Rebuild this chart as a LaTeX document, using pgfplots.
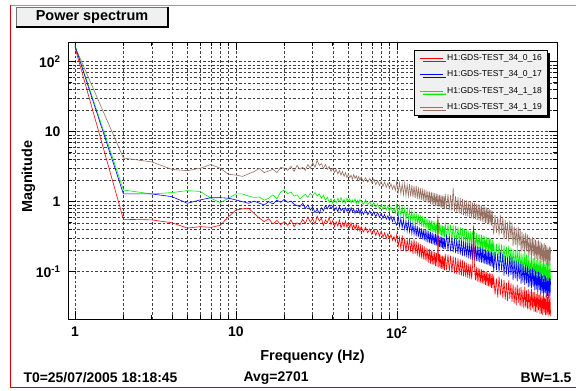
\documentclass[border=0pt]{standalone}
\usepackage{fontspec}
\setmainfont{Liberation Sans}
\usepackage{pgfplots}
\usepackage{pgfplotstable}
\pgfplotsset{compat=1.18}
\usetikzlibrary{shadows}
\definecolor{rootred}{RGB}{255,0,0}
\definecolor{rootblue}{RGB}{0,0,255}
\definecolor{rootgreen}{RGB}{0,240,0}
\definecolor{rootbrown}{RGB}{150,112,98}
\definecolor{panefill}{RGB}{240,240,240}

\pgfplotstableread{
f r b g br
1 160 168 172 165
2 0.56 1.29 1.47 4.2
3 0.55 1.29 1.29 3.7
4 0.50 1.18 1.35 2.9
5 0.42 0.95 1.44 2.77
6 0.44 1.06 1.40 3.0
7 0.43 1.14 1.12 3.4
8 0.46 1.14 0.97 3.0
9 0.61 1.12 1.12 2.46
10 0.76 1.06 1.29 2.4
11 0.79 1.00 1.29 2.3
12 0.80 0.95 1.20 2.5
13 0.68 1.02 1.15 2.7
14 0.58 0.95 1.17 3.0
15 0.52 0.90 1.05 2.6
16 0.57 1.00 1.12 2.75
17 0.48 0.93 1.25 2.9
18 0.54 1.05 1.10 2.6
19 0.47 0.98 1.38 3.1
20 0.52 1.08 1.47 3.0
21 0.46 0.98 1.30 2.8
22 0.55 1.02 1.38 3.2
23 0.44 0.92 1.20 2.7
24 0.50 0.88 1.25 3.3
25 0.47 0.85 1.10 2.9
26 0.56 0.95 1.18 3.1
27 0.49 0.80 1.28 2.8
28 0.60 0.90 1.15 3.4
29 0.51 0.76 1.32 3.0
30 0.57 0.84 1.22 3.6
31 0.48 0.70 1.35 3.1
32 0.62 0.78 1.20 3.9
33 0.53 0.68 1.30 3.3
34 0.58 0.82 1.12 3.5
35 0.46 0.74 1.24 3.0
36 0.55 0.88 1.05 3.4
37 0.50 0.79 1.16 2.9
38 0.60 0.90 0.98 3.2
39 0.47 0.80 1.10 2.7
40 0.54 0.86 0.95 3.0
41 0.44 0.75 1.08 2.6
42 0.52 0.83 0.96 2.9
43 0.45 0.72 1.12 2.5
44 0.55 0.85 1.00 2.8
45 0.42 0.74 1.15 2.4
46 0.50 0.80 0.98 2.7
47 0.44 0.70 1.08 2.3
48 0.53 0.82 0.95 2.6
49 0.43 0.73 1.12 2.2
50 0.49 0.80 1.02 2.5
51 0.42 0.70 1.10 2.2
52 0.50 0.82 0.96 2.4
53 0.41 0.72 1.06 2.1
54 0.47 0.78 0.98 2.45
55 0.40 0.68 1.10 2.15
56 0.48 0.76 0.94 2.35
57 0.39 0.70 1.05 2.05
58 0.45 0.79 0.95 2.3
59 0.38 0.67 1.07 2.0
60 0.44 0.78 1.02 2.25
62 0.37 0.66 0.92 1.95
64 0.43 0.77 1.06 2.2
66 0.36 0.65 0.90 1.9
68 0.41 0.74 1.00 2.15
70 0.34 0.63 0.86 1.85
72 0.40 0.72 0.97 2.1
74 0.33 0.61 0.84 1.75
76 0.39 0.70 0.93 2.0
78 0.32 0.60 0.80 1.7
80 0.38 0.68 0.90 1.95
82 0.31 0.58 0.78 1.65
84 0.36 0.66 0.88 1.9
86 0.30 0.56 0.76 1.6
88 0.35 0.63 0.86 1.85
90 0.29 0.54 0.73 1.55
92 0.34 0.62 0.84 1.8
94 0.28 0.52 0.71 1.5
96 0.32 0.60 0.81 1.72
98 0.27 0.50 0.69 1.45
100 0.34 0.46 0.92 1.95
102 0.23 0.62 0.65 1.35
104 0.31 0.44 0.86 1.85
106 0.21 0.58 0.62 1.30
108 0.33 0.42 0.84 1.80
110 0.20 0.55 0.58 1.25
112 0.30 0.40 0.80 1.85
114 0.19 0.53 0.57 1.22
116 0.29 0.38 0.78 1.75
118 0.20 0.52 0.55 1.20
120 0.30 0.37 0.76 1.78
122 0.19 0.50 0.53 1.18
124 0.28 0.35 0.74 1.72
126 0.18 0.48 0.51 1.15
128 0.29 0.34 0.70 1.70
130 0.18 0.46 0.49 1.12
132 0.27 0.32 0.68 1.68
134 0.17 0.45 0.47 1.10
136 0.26 0.31 0.66 1.62
138 0.16 0.43 0.46 1.08
140 0.25 0.30 0.64 1.58
142 0.155 0.42 0.44 1.05
144 0.24 0.29 0.62 1.55
146 0.15 0.41 0.43 1.02
148 0.23 0.28 0.60 1.50
150 0.145 0.40 0.42 1.00
152 0.22 0.27 0.58 1.45
154 0.14 0.39 0.40 0.98
156 0.215 0.26 0.57 1.42
158 0.135 0.38 0.39 0.96
160 0.21 0.255 0.55 1.40
162 0.13 0.37 0.38 0.93
164 0.20 0.25 0.54 1.38
166 0.127 0.36 0.37 0.91
168 0.195 0.245 0.53 1.35
170 0.124 0.35 0.36 0.90
172 0.19 0.24 0.52 1.32
174 0.12 0.345 0.35 0.88
176 0.185 0.235 0.50 1.30
178 0.118 0.34 0.345 0.86
180 0.65 0.23 0.60 1.28
182 0.115 0.33 0.34 0.85
184 0.18 0.225 0.48 1.26
186 0.112 0.32 0.33 0.84
188 0.175 0.22 0.47 1.24
190 0.11 0.315 0.32 0.82
192 0.17 0.215 0.46 1.22
194 0.107 0.31 0.315 0.80
196 0.165 0.21 0.45 1.20
198 0.105 0.30 0.31 0.79
200 0.18 0.21 0.50 1.30
204 0.105 0.34 0.30 0.78
208 0.175 0.20 0.48 1.28
212 0.10 0.32 0.29 0.76
216 0.17 0.195 0.47 1.25
220 0.098 0.31 0.28 0.74
224 0.165 0.19 0.46 1.57
228 0.095 0.30 0.275 0.72
232 0.16 0.185 0.45 1.20
236 0.092 0.29 0.27 0.70
240 0.155 0.18 0.44 1.15
244 0.09 0.285 0.26 0.68
248 0.15 0.175 0.43 1.12
252 0.088 0.28 0.255 0.66
256 0.145 0.17 0.42 1.10
260 0.086 0.27 0.25 0.64
264 0.14 0.165 0.41 1.06
268 0.084 0.265 0.245 0.62
272 0.135 0.16 0.40 1.04
276 0.082 0.26 0.24 0.61
280 0.13 0.155 0.39 1.02
284 0.08 0.255 0.235 0.60
288 0.127 0.15 0.38 1.00
292 0.078 0.25 0.23 0.58
296 0.124 0.148 0.37 0.98
300 0.46 0.30 0.40 0.57
304 0.12 0.145 0.36 0.96
308 0.075 0.235 0.22 0.56
312 0.117 0.142 0.355 0.94
316 0.073 0.23 0.215 0.55
320 0.114 0.14 0.35 0.92
324 0.071 0.225 0.21 0.54
328 0.111 0.137 0.34 0.90
332 0.07 0.22 0.205 0.53
336 0.108 0.135 0.335 0.88
340 0.068 0.215 0.20 0.52
344 0.105 0.132 0.33 0.86
348 0.066 0.21 0.195 0.51
352 0.102 0.13 0.32 0.84
356 0.065 0.205 0.19 0.50
360 0.10 0.127 0.315 0.82
364 0.063 0.20 0.185 0.49
368 0.098 0.125 0.31 0.80
372 0.062 0.197 0.18 0.48
376 0.096 0.122 0.30 0.78
380 0.06 0.193 0.178 0.47
384 0.094 0.12 0.295 0.76
388 0.059 0.19 0.175 0.46
392 0.092 0.118 0.29 0.74
396 0.058 0.187 0.17 0.45
400 0.088 0.10 0.27 0.34
408 0.047 0.19 0.14 0.64
416 0.080 0.105 0.25 0.36
424 0.043 0.18 0.145 0.61
432 0.086 0.098 0.26 0.33
440 0.046 0.195 0.135 0.65
448 0.078 0.104 0.245 0.35
456 0.042 0.18 0.14 0.60
464 0.076 0.088 0.24 0.29
472 0.040 0.17 0.12 0.55
480 0.070 0.092 0.225 0.30
488 0.038 0.16 0.128 0.51
496 0.075 0.085 0.235 0.27
504 0.041 0.168 0.12 0.54
512 0.068 0.09 0.22 0.29
520 0.037 0.158 0.125 0.50
528 0.066 0.076 0.21 0.23
536 0.035 0.145 0.11 0.45
544 0.060 0.08 0.20 0.24
552 0.033 0.14 0.113 0.42
560 0.065 0.073 0.215 0.22
568 0.036 0.138 0.108 0.44
576 0.059 0.078 0.202 0.235
584 0.032 0.135 0.11 0.41
592 0.060 0.067 0.185 0.19
600 0.032 0.128 0.098 0.37
608 0.055 0.07 0.178 0.20
616 0.030 0.122 0.095 0.35
624 0.061 0.065 0.188 0.185
632 0.031 0.125 0.099 0.36
640 0.054 0.068 0.175 0.195
648 0.029 0.12 0.094 0.34
656 0.056 0.06 0.168 0.165
664 0.029 0.114 0.086 0.32
672 0.052 0.062 0.16 0.17
680 0.028 0.11 0.088 0.30
688 0.057 0.058 0.166 0.16
696 0.030 0.113 0.085 0.315
704 0.051 0.061 0.158 0.168
712 0.027 0.108 0.087 0.30
720 0.052 0.054 0.155 0.148
728 0.027 0.103 0.080 0.285
736 0.048 0.056 0.147 0.152
744 0.026 0.099 0.081 0.27
752 0.053 0.052 0.152 0.145
760 0.028 0.10 0.078 0.28
768 0.047 0.055 0.145 0.15
776 0.025 0.097 0.079 0.268
784 0.049 0.048 0.142 0.133
792 0.025 0.092 0.074 0.26
800 0.045 0.05 0.136 0.138
808 0.024 0.088 0.075 0.245
816 0.050 0.047 0.141 0.13
824 0.026 0.09 0.072 0.255
832 0.044 0.049 0.135 0.135
840 0.024 0.086 0.074 0.24
848 0.047 0.043 0.133 0.121
856 0.024 0.083 0.07 0.235
864 0.044 0.045 0.128 0.125
872 0.023 0.08 0.071 0.22
880 0.048 0.042 0.132 0.12
888 0.024 0.082 0.069 0.23
896 0.043 0.044 0.127 0.124
904 0.023 0.079 0.07 0.222
}\spec

\begin{document}
\begin{tikzpicture}[x=1bp,y=1bp]
\path[use as bounding box] (0,0) rectangle (576,390);
% pad border
\draw[red!85!black, line width=1.2bp] (10.5,385) -- (10.5,2.5) -- (576,2.5);
\draw[red!55, line width=0.8bp] (10.5,385) -- (576,385);
% title box
\draw[fill=panefill, draw=black!55, line width=0.6bp] (16,363) rectangle (168,383);
\draw[black, line width=1.2bp] (16,363) -- (168,363) -- (168,383);
\node[font=\fontsize{14.5}{14.5}\selectfont\bfseries] at (92,373) {Power spectrum};
% bottom texts
\node[anchor=west, font=\fontsize{14}{14}\selectfont\bfseries] at (20,12) {T0=25/07/2005 18:18:45};
\node[anchor=west, font=\fontsize{14}{14}\selectfont\bfseries] at (240,12) {Avg=2701};
\node[anchor=east, font=\fontsize{14}{14}\selectfont\bfseries] at (575,12) {BW=1.5};
\begin{axis}[
  at={(68bp,71bp)}, anchor=south west,
  width=489bp, height=277bp, scale only axis,
  xmode=log, ymode=log,
  xmin=0.905, xmax=990, ymin=0.0211, ymax=191,
  axis line style={black, line width=0.8bp},
  tick style={black, line width=0.6bp},
  major tick length=8bp, minor tick length=4.5bp,
  grid=both,
  major grid style={black!75, line width=0.45bp, dash pattern=on 2.5bp off 2bp},
  minor grid style={black!75, line width=0.45bp, dash pattern=on 2.5bp off 2bp},
  xtick={1,10,100}, xticklabels={1,10,10\textsuperscript{2}},
  ytick={0.1,1,10,100}, yticklabels={10\textsuperscript{-1},1,10,10\textsuperscript{2}},
  tick label style={font=\fontsize{14}{14}\selectfont\bfseries},
  yticklabel style={xshift=-4bp},
  xticklabel style={yshift=-4bp},
  xlabel={Frequency (Hz)}, ylabel={Magnitude},
  every axis x label/.style={at={([yshift=-37.7bp]axis description cs:0.5,0)}, anchor=center,
    font=\fontsize{14.5}{14.5}\selectfont\bfseries},
  every axis y label/.style={at={([xshift=-39.7bp]axis description cs:0,0.514)}, anchor=center, rotate=90,
    font=\fontsize{14.5}{14.5}\selectfont\bfseries},
  legend style={at={(0.98,0.971)}, anchor=north east, fill=panefill, draw=black, line width=0.5bp,
    font=\fontsize{8.6}{8.6}\selectfont, inner xsep=5bp, inner ysep=4bp, row sep=9bp,
    nodes={inner sep=0pt},
    /tikz/every odd column/.style={column sep=4bp},
    drop shadow={shadow xshift=3bp, shadow yshift=-3bp, fill=black, opacity=1}},
  legend cell align=left,
  reverse legend,
  legend image code/.code={\draw[#1, line width=0.6bp] (0bp,0bp) -- (23bp,0bp);},
  every axis plot/.append style={line width=0.6bp},
]
\addplot[rootbrown, no marks] table[x=f, y=br] {\spec};
\addlegendentry{H1:GDS-TEST\_34\_1\_19}
\addplot[rootgreen, no marks] table[x=f, y=g] {\spec};
\addlegendentry{H1:GDS-TEST\_34\_1\_18}
\addplot[rootblue, no marks] table[x=f, y=b] {\spec};
\addlegendentry{H1:GDS-TEST\_34\_0\_17}
\addplot[rootred, no marks] table[x=f, y=r] {\spec};
\addlegendentry{H1:GDS-TEST\_34\_0\_16}
\end{axis}
\end{tikzpicture}
\end{document}
